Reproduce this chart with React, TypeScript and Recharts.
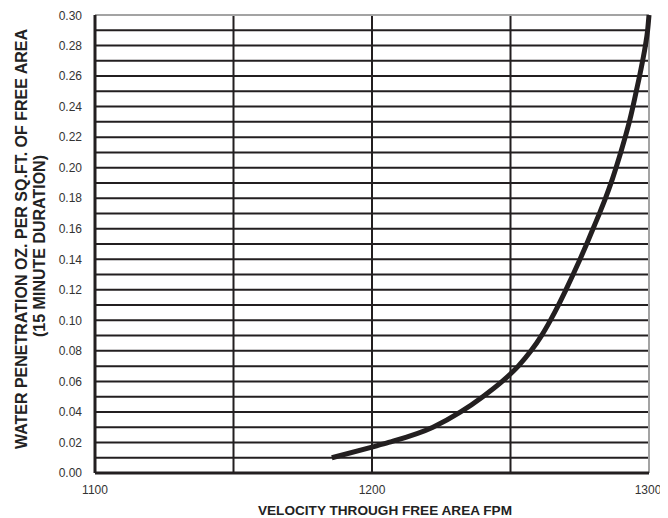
import { LineChart, Line, XAxis, YAxis, ReferenceLine } from "recharts";

// curve, one point per gridline crossing
const velocity = [1185.5, 1200, 1206, 1222, 1232, 1240, 1247, 1252.8, 1257.4, 1261.2, 1264.4, 1267.3, 1270, 1272.6, 1275.1, 1277.5, 1279.8, 1282.1, 1284.3, 1286.3, 1288.1, 1289.8, 1291.4, 1292.9, 1294.2, 1295.4, 1296.6, 1297.7, 1298.7, 1299.5, 1300];
const penetration = [0.010, 0.017, 0.020, 0.030, 0.040, 0.050, 0.060, 0.070, 0.080, 0.090, 0.100, 0.110, 0.120, 0.130, 0.140, 0.150, 0.160, 0.170, 0.180, 0.190, 0.200, 0.210, 0.220, 0.230, 0.240, 0.250, 0.260, 0.270, 0.280, 0.290, 0.300];

const xTicks = [1100, 1200, 1300];
const yTicks = [0, 0.02, 0.04, 0.06, 0.08, 0.1, 0.12, 0.14, 0.16, 0.18, 0.2, 0.22, 0.24, 0.26, 0.28, 0.3];
const xGrid = [1150, 1200, 1250];
const yGrid = [0.01, 0.02, 0.03, 0.04, 0.05, 0.06, 0.07, 0.08, 0.09, 0.1, 0.11, 0.12, 0.13, 0.14, 0.15, 0.16, 0.17, 0.18, 0.19, 0.2, 0.21, 0.22, 0.23, 0.24, 0.25, 0.26, 0.27, 0.28, 0.29];

const data = velocity.map((v, i) => ({ v, p: penetration[i] }));

const INK = "#231f20";
const BORDER = "#a3a3a3";
const FONT = "Arial, 'Liberation Sans', Helvetica, sans-serif";

export default function App() {
  const tick = { fill: "#333", fontSize: 12, fontFamily: FONT };

  return (
    <div style={{ position: "relative", width: 652, height: 510 }}>
      <LineChart
        width={652}
        height={502}
        data={data}
        margin={{ top: 7, right: 11, bottom: 0, left: 0 }}
      >
        <XAxis
          type="number"
          dataKey="v"
          domain={[1100, 1300]}
          ticks={xTicks}
          height={37}
          tickLine={false}
          tickSize={0}
          tickMargin={12}
          axisLine={{ stroke: INK, strokeWidth: 3 }}
          tick={tick}
        />
        <YAxis
          type="number"
          domain={[0, 0.3]}
          ticks={yTicks}
          width={87}
          tickLine={false}
          tickSize={0}
          tickMargin={13}
          axisLine={{ stroke: INK, strokeWidth: 3 }}
          tick={tick}
          tickFormatter={(t: number) => t.toFixed(2)}
        />
        {yGrid.map((y) => (
          <ReferenceLine key={`h${y}`} y={y} stroke={INK} strokeWidth={2} />
        ))}
        {xGrid.map((x) => (
          <ReferenceLine key={`v${x}`} x={x} stroke={INK} strokeWidth={2} />
        ))}
        <ReferenceLine y={0.3} stroke={BORDER} strokeWidth={2} />
        <ReferenceLine x={1300} stroke={BORDER} strokeWidth={2} />
        <Line
          type="monotone"
          dataKey="p"
          stroke={INK}
          strokeWidth={5}
          dot={false}
          isAnimationActive={false}
        />
      </LineChart>

      {/* axis titles, in page coordinates */}
      <svg
        width={668}
        height={518}
        style={{ position: "absolute", left: -8, top: -8, pointerEvents: "none" }}
      >
        <g fontFamily={FONT} fontWeight="bold" fill="#222">
          <text x={27} y={239} fontSize={16} textAnchor="middle" transform="rotate(-90 27 239)">
            WATER PENETRATION OZ. PER SQ.FT. OF FREE AREA
          </text>
          <text x={45} y={246} fontSize={16} textAnchor="middle" transform="rotate(-90 45 246)">
            (15 MINUTE DURATION)
          </text>
          <text x={385} y={515} fontSize={13.6} textAnchor="middle">
            VELOCITY THROUGH FREE AREA FPM
          </text>
        </g>
      </svg>
    </div>
  );
}
